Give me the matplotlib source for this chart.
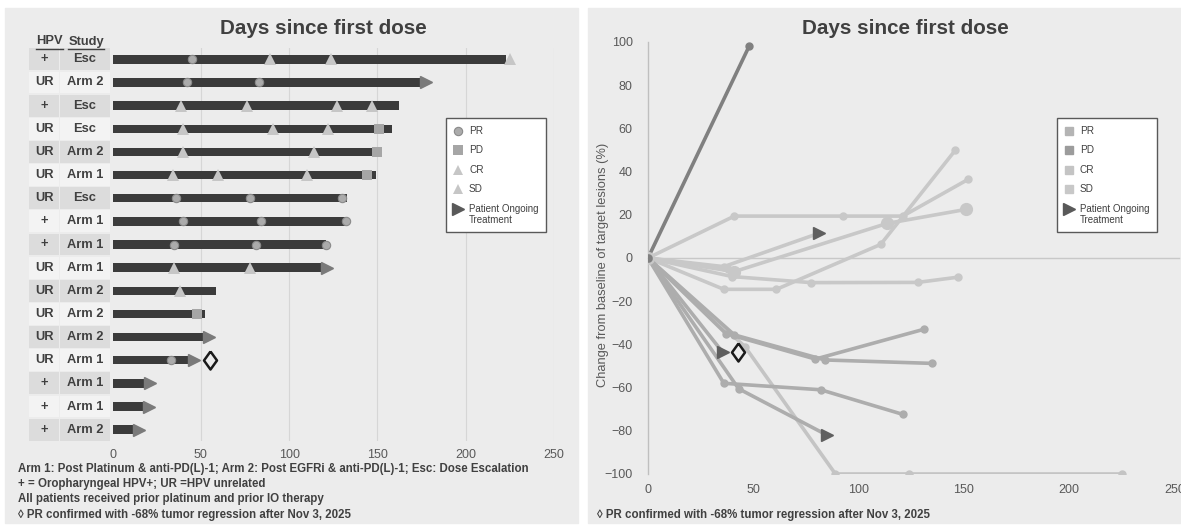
import matplotlib
matplotlib.use("Agg")
import matplotlib.pyplot as plt
from matplotlib.patches import Rectangle
from matplotlib.lines import Line2D

W, H = 1181, 529
DPI = 100
plt.rcParams['font.family'] = ['Liberation Sans', 'DejaVu Sans']

# ---------------- data: swimmer plot ----------------
hpv = ["+", "UR", "+", "UR", "UR", "UR", "UR", "+", "+", "UR", "UR", "UR", "UR", "UR", "+", "+", "+"]
study = ["Esc", "Arm 2", "Esc", "Esc", "Arm 2", "Arm 1", "Esc", "Arm 1", "Arm 1", "Arm 1",
         "Arm 2", "Arm 2", "Arm 2", "Arm 1", "Arm 1", "Arm 1", "Arm 2"]
bar_days = [223, 175, 162, 158, 150, 149, 133, 132, 121, 119, 58.5, 52.5, 52.5, 44, 19, 18, 12.5]
ongoing = [False, True, False, False, False, False, False, False, False, True,
           False, False, True, True, True, True, True]
assess_days = [[45, 89, 124, 225], [42, 83], [39, 76, 127, 147], [40, 91, 122, 151],
               [40, 114, 150], [34, 60, 110, 144], [36, 78, 130], [40, 84, 132],
               [35, 81, 121], [35, 78], [38], [48], [], [33], [], [], []]
assess_resp = [["PR", "CR", "CR", "CR"], ["PR", "PR"], ["SD", "SD", "SD", "SD"],
               ["SD", "SD", "SD", "PD"], ["SD", "SD", "PD"], ["SD", "SD", "SD", "PD"],
               ["PR", "PR", "PR"], ["PR", "PR", "PR"], ["PR", "PR", "PR"], ["SD", "SD"],
               ["SD"], ["PD"], [], ["PR"], [], [], []]
confirmed_row = 13
confirmed_day = 55
swim_ticks = [0, 50, 100, 150, 200, 250]

# ---------------- data: spider plot ----------------
spider_days = [[0, 46, 89, 124, 225], [0, 43, 85], [0, 40, 77.5, 128, 147],
               [0, 41, 92.5, 121, 152], [0, 41, 113.5, 151], [0, 36, 61, 110.5, 146],
               [0, 37, 79.5, 131], [0, 41, 84, 135], [0, 36, 82, 121], [0, 36, 81],
               [0, 38], [0, 48], [0, 35.5]]
spider_pct = [[0, -41, -100, -100, -100], [0, -60.5, -82], [0, -8.6, -11.4, -11.3, -8.9],
              [0, 19.4, 19.4, 19.4, 36.4], [0, -6.3, 16, 22.5], [0, -14.5, -14.5, 6.3, 50],
              [0, -35, -46.8, -33], [0, -35.6, -47.2, -48.8], [0, -58, -61, -72.4],
              [0, -4, 11.4], [0, -5], [0, 98], [0, -43.7]]
spider_best = ["CR", "PR", "SD", "SD", "SD", "SD", "PR", "PR", "PR", "SD", "SD", "PD", "PR"]
spider_ongoing = [False, True, False, False, False, False, False, False, False, True,
                  False, False, True]
spider_big = [False, False, False, False, True, False, False, False, False, False,
              False, False, False]
confirmed_pt = (42.7, -43.7)
spider_xticks = [0, 50, 100, 150, 200, 250]
spider_yticks = [-100, -80, -60, -40, -20, 0, 20, 40, 60, 80, 100]

# ---------------- styling ----------------
PANEL = '#ececec'
TXT = '#404040'
TICK = '#595959'
DIAMOND = [(0, 1), (0.72, 0), (0, -1), (-0.72, 0), (0, 1)]
resp_style = {
    "PR": dict(marker='o', ms=6, mfc='#ababab', mec='#8a8a8a', mew=0.8),
    "PD": dict(marker='s', ms=6.5, mfc='#a6a6a6', mec='#a6a6a6', mew=0),
    "CR": dict(marker='^', ms=8.5, mfc='#c6c6c6', mec='#c6c6c6', mew=0),
    "SD": dict(marker='^', ms=8.5, mfc='#c6c6c6', mec='#c6c6c6', mew=0),
}
line_col = {"CR": '#c4c4c4', "PR": '#adadad', "SD": '#c8c8c8', "PD": '#808080'}


def fx(x):
    return x / W


def fy(y):
    return 1 - y / H


fig = plt.figure(figsize=(W / DPI, H / DPI), dpi=DPI)
fig.patch.set_facecolor('white')
fig.add_artist(Rectangle((fx(5), fy(523)), fx(578) - fx(5), fy(8) - fy(523),
                         transform=fig.transFigure, color=PANEL, zorder=0))
fig.add_artist(Rectangle((fx(588), fy(523)), fx(1181) - fx(588), fy(8) - fy(523),
                         transform=fig.transFigure, color=PANEL, zorder=0))

# ================= LEFT: swimmer =================
n = len(hpv)
ylim = (n - 1 + 0.49, -0.49)
axL = fig.add_axes([fx(112.5), fy(441), fx(554) - fx(112.5), fy(48) - fy(441)])
axL.set_facecolor('none')
axL.set_xlim(0, 250)
axL.set_ylim(*ylim)
for s in axL.spines.values():
    s.set_visible(False)
axL.set_yticks([])
axL.set_xticks(swim_ticks)
axL.tick_params(axis='x', length=0, pad=6, labelsize=9, labelcolor=TICK)
for t in swim_ticks[1:]:
    axL.axvline(t, color='#d6d6d6', lw=0.8, zorder=0)

rows = list(range(n))
axL.barh(rows, bar_days, height=0.36, color='#3b3b3b', zorder=2)
for i in rows:
    for d, r in zip(assess_days[i], assess_resp[i]):
        axL.plot([d], [i], linestyle='none', zorder=4, clip_on=False, **resp_style[r])
    if ongoing[i]:
        axL.plot([bar_days[i] + 2.4], [i], marker='>', ms=8, color='#7a7a7a',
                 linestyle='none', zorder=4, clip_on=False)
axL.plot([confirmed_day], [confirmed_row], marker=DIAMOND, ms=13, mfc='none', mec='#1a1a1a',
         mew=1.8, linestyle='none', zorder=5)

# table
axT = fig.add_axes([fx(29), fy(441), fx(110) - fx(29), fy(48) - fy(441)])
axT.set_xlim(0, 81)
axT.set_ylim(*ylim)
axT.axis('off')
for i in rows:
    c = '#dcdcdc' if i % 2 == 0 else '#f3f3f3'
    axT.add_patch(Rectangle((0, i - 0.5 + 0.03), 30, 0.94, color=c, lw=0))
    axT.add_patch(Rectangle((31, i - 0.5 + 0.03), 50, 0.94, color=c, lw=0))
    axT.text(15.3, i, hpv[i], ha='center', va='center', fontsize=9.3, fontweight='bold', color=TXT)
    axT.text(56, i, study[i], ha='center', va='center', fontsize=9.3, fontweight='bold', color=TXT)

for label, xc in (("HPV", 49.3), ("Study", 86)):
    fig.text(fx(xc), fy(41.5), label, ha='center', va='center', fontsize=9.3,
             fontweight='bold', color=TXT)
# underlines
fig.add_artist(Line2D([fx(36), fx(63)], [fy(48.5), fy(48.5)], transform=fig.transFigure,
                      color=TXT, lw=1))
fig.add_artist(Line2D([fx(68), fx(104)], [fy(48.5), fy(48.5)], transform=fig.transFigure,
                      color=TXT, lw=1))

fig.text(fx(323), fy(29), "Days since first dose", ha='center', va='center',
         fontsize=14.9, fontweight='bold', color=TXT)

# left legend
fig.add_artist(Rectangle((fx(445.7), fy(231.7)), fx(545.7) - fx(445.7), fy(118.3) - fy(231.7),
                         transform=fig.transFigure, facecolor='white', edgecolor='#595959',
                         lw=1, zorder=6))
leg_items = [("PR", 131), ("PD", 150.3), ("CR", 169.7), ("SD", 189)]
for r, yy in leg_items:
    st = dict(resp_style[r])
    if st['marker'] == '^':
        st['ms'] = 7.5
    fig.add_artist(Line2D([fx(458.3)], [fy(yy)], transform=fig.transFigure, linestyle='none',
                          zorder=7, **st))
    fig.text(fx(469), fy(yy), r, ha='left', va='center', fontsize=7.2, color=TXT, zorder=7)
fig.add_artist(Line2D([fx(458.3)], [fy(209)], transform=fig.transFigure, linestyle='none',
                      marker='>', ms=8, color='#595959', zorder=7))
fig.text(fx(469), fy(214.5), "Patient Ongoing\nTreatment", ha='left', va='center',
         fontsize=7, color=TXT, linespacing=1.05, zorder=7)

foot = ["Arm 1: Post Platinum & anti-PD(L)-1; Arm 2: Post EGFRi & anti-PD(L)-1; Esc: Dose Escalation",
        "+ = Oropharyngeal HPV+; UR =HPV unrelated",
        "All patients received prior platinum and prior IO therapy",
        "\u25ca PR confirmed with -68% tumor regression after Nov 3, 2025"]
for s, yy in zip(foot, [469, 484, 499, 515]):
    fig.text(fx(18), fy(yy), s, ha='left', va='center', fontsize=8.3, fontweight='bold', color=TXT)

# ================= RIGHT: spider =================
axR = fig.add_axes([fx(648), fy(474), fx(1174.5) - fx(648), fy(42) - fy(474)])
axR.set_facecolor('none')
axR.set_xlim(0, 250)
axR.set_ylim(-100, 100)
for k in ('top', 'right', 'bottom'):
    axR.spines[k].set_visible(False)
axR.spines['left'].set_color('#bfbfbf')
axR.spines['left'].set_linewidth(1)
axR.set_xticks(spider_xticks)
axR.set_yticks(spider_yticks)
axR.tick_params(length=0, labelsize=9, labelcolor=TICK)
axR.tick_params(axis='x', pad=7)
axR.tick_params(axis='y', pad=11)
axR.plot([0, 252], [0, 0], color='#c8c8c8', lw=1, zorder=1, clip_on=False)

order = sorted(range(len(spider_days)), key=lambda k: {"SD": 0, "CR": 1, "PR": 2, "PD": 3}[spider_best[k]])
for k in order:
    c = line_col[spider_best[k]]
    d, p = spider_days[k], spider_pct[k]
    axR.plot(d, p, color=c, lw=2.6, solid_capstyle='round', zorder=2)
    ms = 8.5 if spider_big[k] else 5
    if spider_ongoing[k]:
        axR.plot(d[:-1], p[:-1], linestyle='none', marker='o', ms=ms, color=c, zorder=3)
        axR.plot(d[-1:], p[-1:], linestyle='none', marker='>', ms=8, color='#5f5f5f', zorder=4)
    else:
        axR.plot(d, p, linestyle='none', marker='o', ms=ms, color=c, zorder=3)
axR.plot([confirmed_pt[0]], [confirmed_pt[1]], marker=DIAMOND, ms=13, mfc='none', mec='#1a1a1a',
         mew=1.8, linestyle='none', zorder=5)

fig.text(fx(603), fy(265), "Change from baseline of target lesions (%)", rotation=90,
         ha='center', va='center', fontsize=9.3, color=TICK)
fig.text(fx(905.5), fy(29), "Days since first dose", ha='center', va='center',
         fontsize=14.9, fontweight='bold', color=TXT)

# right legend
fig.add_artist(Rectangle((fx(1056.7), fy(231.7)), fx(1157.3) - fx(1056.7), fy(118.3) - fy(231.7),
                         transform=fig.transFigure, facecolor='white', edgecolor='#595959',
                         lw=1, zorder=6))
rleg = [("PR", 131, '#b4b4b4'), ("PD", 150.3, '#9c9c9c'), ("CR", 169.7, '#c4c4c4'),
        ("SD", 189, '#c8c8c8')]
for r, yy, c in rleg:
    fig.add_artist(Line2D([fx(1069.3)], [fy(yy)], transform=fig.transFigure, linestyle='none',
                          marker='s', ms=5.5, color=c, zorder=7))
    fig.text(fx(1080), fy(yy), r, ha='left', va='center', fontsize=7.2, color=TXT, zorder=7)
fig.add_artist(Line2D([fx(1069.3)], [fy(209)], transform=fig.transFigure, linestyle='none',
                      marker='>', ms=8, color='#595959', zorder=7))
fig.text(fx(1080), fy(214.5), "Patient Ongoing\nTreatment", ha='left', va='center',
         fontsize=7, color=TXT, linespacing=1.05, zorder=7)

fig.text(fx(597), fy(515), foot[3], ha='left', va='center', fontsize=8.3, fontweight='bold',
         color=TXT)

fig.savefig("out.png", dpi=DPI)
